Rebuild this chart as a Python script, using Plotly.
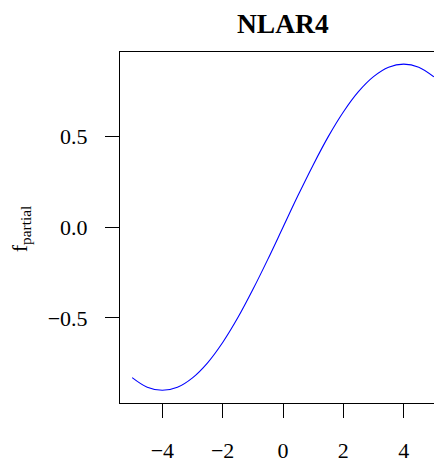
import plotly.graph_objects as go

# values
x_vals = [-5.0, -4.5, -4.0, -3.5, -3.0, -2.5, -2.0, -1.5, -1.0, -0.5, 0.0,
          0.5, 1.0, 1.5, 2.0, 2.5, 3.0, 3.5, 4.0, 4.5, 5.0]
f_partial = [-0.83, -0.883, -0.90, -0.883, -0.831, -0.748, -0.636, -0.50, -0.344, -0.176, 0.0,
             0.176, 0.344, 0.50, 0.636, 0.748, 0.831, 0.883, 0.90, 0.883, 0.83]
x_ticks = [-4, -2, 0, 2, 4]
y_ticks = [-0.5, 0.0, 0.5]
y_tick_text = ["\u22120.5", "0.0", "0.5"]
x_tick_text = ["\u22124", "\u22122", "0", "2", "4"]

# the page body adds an 8px offset, so the figure is 8px smaller
OFF = 8
W, H = 442 - OFF, 463 - OFF
L, R, T, B = 120 - OFF, 0, 52 - OFF, round(H - (406.7 - OFF))
FONT = "Liberation Serif"

fig = go.Figure(go.Scatter(
    x=x_vals, y=f_partial, mode="lines",
    line=dict(color="#0000ff", width=1.1, shape="spline", smoothing=1.0),
    hoverinfo="skip", showlegend=False,
))

fig.update_layout(
    width=W, height=H,
    margin=dict(l=L, r=R, t=T, b=B, pad=0),
    paper_bgcolor="white", plot_bgcolor="white",
    font=dict(family=FONT, color="black", size=22),
    xaxis=dict(
        range=[-5.403, 5.27], showgrid=False, zeroline=False,
        showline=True, linecolor="black", linewidth=1, mirror=True,
        ticks="outside", ticklen=14, tickcolor="black", tickwidth=1,
        tickvals=x_ticks, ticktext=x_tick_text,
        tickfont=dict(family=FONT, size=22), ticklabelstandoff=14,
    ),
    yaxis=dict(
        range=[-0.97, 0.967], showgrid=False, zeroline=False,
        showline=True, linecolor="black", linewidth=1, mirror=False,
        ticks="outside", ticklen=14, tickcolor="black", tickwidth=1,
        tickvals=y_ticks, ticktext=y_tick_text,
        tickfont=dict(family=FONT, size=22), ticklabelstandoff=13,
    ),
    annotations=[
        dict(text="<b>NLAR4</b>", xref="paper", yref="paper",
             x=(283 - 120) / (W - L - R), y=1 + (52 - 23) / (H - T - B),
             xanchor="center", yanchor="middle", showarrow=False,
             font=dict(family=FONT, size=27.5, color="black")),
        dict(text="f<sub>partial</sub>", xref="paper", yref="paper",
             x=(21 - 120) / (W - L - R), y=(406.7 - 230) / (H - T - B),
             xanchor="center", yanchor="middle", showarrow=False, textangle=-90,
             font=dict(family=FONT, size=22, color="black")),
    ],
)

fig.write_html("out.html")
